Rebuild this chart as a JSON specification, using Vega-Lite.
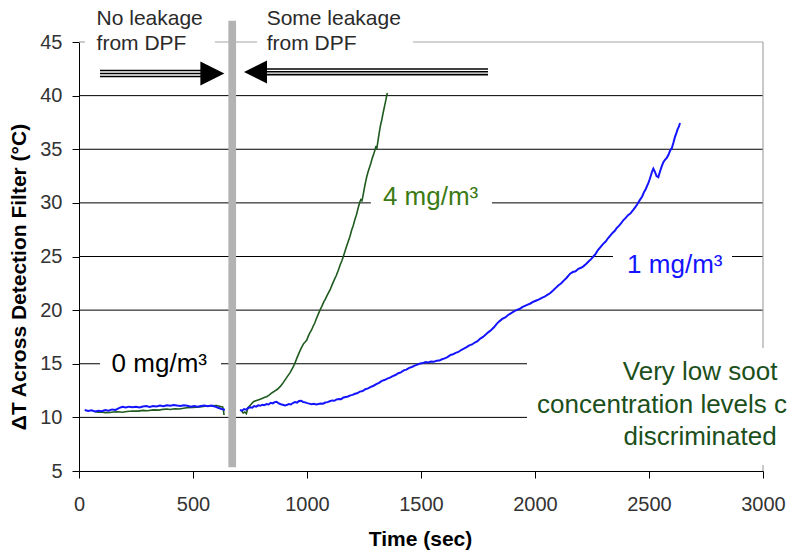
{
"$schema": "https://vega.github.io/schema/vega-lite/v6.json",
"width": 684, "height": 429,
"autosize": {"type": "none"},
"padding": {"left": 79, "top": 42, "right": 34, "bottom": 84},
"background": "white",
"config": {"view": {"stroke": null}, "font": "Liberation Sans"},
"datasets": {
"grid": [
{"y":40,"x":0,"x2":3000},{"y":35,"x":0,"x2":3000},{"y":30,"x":0,"x2":1280},{"y":30,"x":1811,"x2":3000},
{"y":25,"x":0,"x2":2342},{"y":25,"x":2864,"x2":3000},{"y":20,"x":0,"x2":3000},
{"y":15,"x":0,"x2":92},{"y":15,"x":623,"x2":1965},{"y":10,"x":0,"x2":1965}],
"hborder": [{"y":45,"x":0,"x2":26},{"y":45,"x":596,"x2":781},{"y":45,"x":1465,"x2":3000}],
"vborder": [{"x":3000,"y":5,"y2":5.56},{"x":3000,"y":16.47,"y2":45}],
"bar": [{"x":672,"y":5.34,"y2":46.99}],
"arrowlines": [
{"x":92,"x2":560,"y":42.34},{"x":92,"x2":560,"y":42.06},{"x":92,"x2":560,"y":41.78},
{"x":800,"x2":1794,"y":42.48},{"x":800,"x2":1794,"y":42.22},{"x":800,"x2":1794,"y":41.96}],
"headR": [{"x":585,"y":42.06}],
"headL": [{"x":774,"y":42.2}],
"blue": [
{"x":25,"y":10.68,"seg":"a"},{"x":40,"y":10.6,"seg":"a"},{"x":55,"y":10.66,"seg":"a"},{"x":70,"y":10.55,"seg":"a"},{"x":85,"y":10.62,"seg":"a"},{"x":100,"y":10.58,"seg":"a"},{"x":115,"y":10.68,"seg":"a"},{"x":130,"y":10.62,"seg":"a"},{"x":145,"y":10.74,"seg":"a"},{"x":160,"y":10.7,"seg":"a"},{"x":175,"y":10.86,"seg":"a"},{"x":190,"y":10.98,"seg":"a"},{"x":205,"y":10.92,"seg":"a"},{"x":220,"y":11.0,"seg":"a"},{"x":235,"y":10.95,"seg":"a"},{"x":250,"y":10.98,"seg":"a"},{"x":265,"y":10.93,"seg":"a"},{"x":280,"y":11.02,"seg":"a"},{"x":295,"y":11.05,"seg":"a"},{"x":310,"y":10.98,"seg":"a"},{"x":325,"y":11.06,"seg":"a"},{"x":340,"y":11.02,"seg":"a"},{"x":355,"y":11.1,"seg":"a"},{"x":370,"y":11.04,"seg":"a"},{"x":385,"y":11.12,"seg":"a"},{"x":400,"y":11.08,"seg":"a"},{"x":415,"y":11.15,"seg":"a"},{"x":430,"y":11.1,"seg":"a"},{"x":445,"y":11.06,"seg":"a"},{"x":460,"y":11.12,"seg":"a"},{"x":475,"y":11.08,"seg":"a"},{"x":490,"y":11.0,"seg":"a"},{"x":505,"y":11.05,"seg":"a"},{"x":520,"y":11.0,"seg":"a"},{"x":535,"y":11.06,"seg":"a"},{"x":550,"y":11.1,"seg":"a"},{"x":565,"y":11.05,"seg":"a"},{"x":580,"y":11.1,"seg":"a"},{"x":595,"y":11.02,"seg":"a"},{"x":610,"y":10.9,"seg":"a"},{"x":625,"y":10.78,"seg":"a"},{"x":640,"y":10.72,"seg":"a"},
{"x":706,"y":10.69,"seg":"b"},{"x":715,"y":10.62,"seg":"b"},{"x":724,"y":10.78,"seg":"b"},{"x":733,"y":10.72,"seg":"b"},{"x":742,"y":10.88,"seg":"b"},{"x":751,"y":10.95,"seg":"b"},{"x":760,"y":10.9,"seg":"b"},{"x":768,"y":11.06,"seg":"b"},{"x":777,"y":11.0,"seg":"b"},{"x":786,"y":11.12,"seg":"b"},{"x":795,"y":11.08,"seg":"b"},{"x":804,"y":11.18,"seg":"b"},{"x":813,"y":11.14,"seg":"b"},{"x":823,"y":11.25,"seg":"b"},{"x":832,"y":11.2,"seg":"b"},{"x":841,"y":11.36,"seg":"b"},{"x":850,"y":11.3,"seg":"b"},{"x":858,"y":11.42,"seg":"b"},{"x":867,"y":11.46,"seg":"b"},{"x":876,"y":11.3,"seg":"b"},{"x":885,"y":11.22,"seg":"b"},{"x":894,"y":11.18,"seg":"b"},{"x":903,"y":11.12,"seg":"b"},{"x":911,"y":11.15,"seg":"b"},{"x":920,"y":11.25,"seg":"b"},{"x":929,"y":11.2,"seg":"b"},{"x":938,"y":11.34,"seg":"b"},{"x":947,"y":11.42,"seg":"b"},{"x":956,"y":11.38,"seg":"b"},{"x":965,"y":11.52,"seg":"b"},{"x":974,"y":11.55,"seg":"b"},{"x":983,"y":11.44,"seg":"b"},{"x":992,"y":11.4,"seg":"b"},{"x":1001,"y":11.33,"seg":"b"},{"x":1010,"y":11.28,"seg":"b"},{"x":1020,"y":11.22,"seg":"b"},{"x":1030,"y":11.26,"seg":"b"},{"x":1040,"y":11.2,"seg":"b"},{"x":1050,"y":11.24,"seg":"b"},{"x":1060,"y":11.3,"seg":"b"},{"x":1070,"y":11.28,"seg":"b"},{"x":1080,"y":11.38,"seg":"b"},{"x":1090,"y":11.42,"seg":"b"},{"x":1100,"y":11.5,"seg":"b"},{"x":1110,"y":11.58,"seg":"b"},{"x":1120,"y":11.55,"seg":"b"},{"x":1130,"y":11.68,"seg":"b"},{"x":1140,"y":11.72,"seg":"b"},{"x":1150,"y":11.7,"seg":"b"},{"x":1160,"y":11.85,"seg":"b"},{"x":1170,"y":11.9,"seg":"b"},{"x":1180,"y":11.95,"seg":"b"},{"x":1190,"y":12.05,"seg":"b"},{"x":1200,"y":12.1,"seg":"b"},{"x":1210,"y":12.2,"seg":"b"},{"x":1220,"y":12.25,"seg":"b"},{"x":1232,"y":12.4,"seg":"b"},{"x":1244,"y":12.45,"seg":"b"},{"x":1256,"y":12.62,"seg":"b"},{"x":1268,"y":12.7,"seg":"b"},{"x":1280,"y":12.85,"seg":"b"},{"x":1292,"y":12.95,"seg":"b"},{"x":1304,"y":13.1,"seg":"b"},{"x":1316,"y":13.22,"seg":"b"},{"x":1328,"y":13.4,"seg":"b"},{"x":1340,"y":13.48,"seg":"b"},{"x":1352,"y":13.62,"seg":"b"},{"x":1364,"y":13.7,"seg":"b"},{"x":1376,"y":13.85,"seg":"b"},{"x":1388,"y":13.95,"seg":"b"},{"x":1400,"y":14.12,"seg":"b"},{"x":1412,"y":14.2,"seg":"b"},{"x":1424,"y":14.38,"seg":"b"},{"x":1436,"y":14.45,"seg":"b"},{"x":1448,"y":14.62,"seg":"b"},{"x":1460,"y":14.7,"seg":"b"},{"x":1472,"y":14.82,"seg":"b"},{"x":1484,"y":14.92,"seg":"b"},{"x":1496,"y":15.02,"seg":"b"},{"x":1508,"y":15.06,"seg":"b"},{"x":1520,"y":15.15,"seg":"b"},{"x":1532,"y":15.12,"seg":"b"},{"x":1544,"y":15.2,"seg":"b"},{"x":1556,"y":15.18,"seg":"b"},{"x":1568,"y":15.28,"seg":"b"},{"x":1580,"y":15.3,"seg":"b"},{"x":1592,"y":15.42,"seg":"b"},{"x":1604,"y":15.5,"seg":"b"},{"x":1616,"y":15.62,"seg":"b"},{"x":1628,"y":15.8,"seg":"b"},{"x":1640,"y":15.88,"seg":"b"},{"x":1652,"y":16.02,"seg":"b"},{"x":1664,"y":16.1,"seg":"b"},{"x":1676,"y":16.28,"seg":"b"},{"x":1688,"y":16.4,"seg":"b"},{"x":1700,"y":16.55,"seg":"b"},{"x":1712,"y":16.72,"seg":"b"},{"x":1724,"y":16.8,"seg":"b"},{"x":1736,"y":16.98,"seg":"b"},{"x":1748,"y":17.1,"seg":"b"},{"x":1760,"y":17.35,"seg":"b"},{"x":1772,"y":17.5,"seg":"b"},{"x":1784,"y":17.72,"seg":"b"},{"x":1796,"y":17.95,"seg":"b"},{"x":1808,"y":18.15,"seg":"b"},{"x":1820,"y":18.4,"seg":"b"},{"x":1832,"y":18.72,"seg":"b"},{"x":1846,"y":19.0,"seg":"b"},{"x":1858,"y":19.2,"seg":"b"},{"x":1870,"y":19.32,"seg":"b"},{"x":1882,"y":19.55,"seg":"b"},{"x":1894,"y":19.7,"seg":"b"},{"x":1906,"y":19.85,"seg":"b"},{"x":1920,"y":20.02,"seg":"b"},{"x":1932,"y":20.1,"seg":"b"},{"x":1944,"y":20.28,"seg":"b"},{"x":1956,"y":20.4,"seg":"b"},{"x":1968,"y":20.52,"seg":"b"},{"x":1980,"y":20.62,"seg":"b"},{"x":1993,"y":20.78,"seg":"b"},{"x":2006,"y":20.9,"seg":"b"},{"x":2018,"y":21.0,"seg":"b"},{"x":2030,"y":21.15,"seg":"b"},{"x":2042,"y":21.25,"seg":"b"},{"x":2054,"y":21.42,"seg":"b"},{"x":2066,"y":21.57,"seg":"b"},{"x":2078,"y":21.8,"seg":"b"},{"x":2090,"y":22.05,"seg":"b"},{"x":2102,"y":22.3,"seg":"b"},{"x":2114,"y":22.48,"seg":"b"},{"x":2126,"y":22.75,"seg":"b"},{"x":2138,"y":23.0,"seg":"b"},{"x":2154,"y":23.4,"seg":"b"},{"x":2166,"y":23.55,"seg":"b"},{"x":2178,"y":23.62,"seg":"b"},{"x":2190,"y":23.85,"seg":"b"},{"x":2202,"y":23.95,"seg":"b"},{"x":2212,"y":24.08,"seg":"b"},{"x":2224,"y":24.3,"seg":"b"},{"x":2236,"y":24.55,"seg":"b"},{"x":2246,"y":24.75,"seg":"b"},{"x":2256,"y":25.0,"seg":"b"},{"x":2266,"y":25.25,"seg":"b"},{"x":2276,"y":25.6,"seg":"b"},{"x":2288,"y":25.9,"seg":"b"},{"x":2300,"y":26.2,"seg":"b"},{"x":2310,"y":26.4,"seg":"b"},{"x":2320,"y":26.7,"seg":"b"},{"x":2330,"y":26.95,"seg":"b"},{"x":2340,"y":27.2,"seg":"b"},{"x":2350,"y":27.4,"seg":"b"},{"x":2358,"y":27.65,"seg":"b"},{"x":2368,"y":27.85,"seg":"b"},{"x":2378,"y":28.1,"seg":"b"},{"x":2388,"y":28.4,"seg":"b"},{"x":2398,"y":28.6,"seg":"b"},{"x":2408,"y":28.85,"seg":"b"},{"x":2418,"y":29.0,"seg":"b"},{"x":2431,"y":29.35,"seg":"b"},{"x":2440,"y":29.6,"seg":"b"},{"x":2448,"y":29.85,"seg":"b"},{"x":2455,"y":30.1,"seg":"b"},{"x":2461,"y":30.3,"seg":"b"},{"x":2470,"y":30.6,"seg":"b"},{"x":2478,"y":31.0,"seg":"b"},{"x":2486,"y":31.3,"seg":"b"},{"x":2492,"y":31.6,"seg":"b"},{"x":2497,"y":31.85,"seg":"b"},{"x":2503,"y":32.2,"seg":"b"},{"x":2509,"y":32.6,"seg":"b"},{"x":2514,"y":32.95,"seg":"b"},{"x":2519,"y":33.2,"seg":"b"},{"x":2526,"y":32.9,"seg":"b"},{"x":2533,"y":32.5,"seg":"b"},{"x":2541,"y":32.4,"seg":"b"},{"x":2548,"y":32.9,"seg":"b"},{"x":2555,"y":33.35,"seg":"b"},{"x":2563,"y":33.8,"seg":"b"},{"x":2570,"y":34.0,"seg":"b"},{"x":2578,"y":34.2,"seg":"b"},{"x":2586,"y":34.5,"seg":"b"},{"x":2593,"y":34.9,"seg":"b"},{"x":2600,"y":35.1,"seg":"b"},{"x":2607,"y":35.6,"seg":"b"},{"x":2614,"y":36.15,"seg":"b"},{"x":2620,"y":36.5,"seg":"b"},{"x":2626,"y":36.9,"seg":"b"},{"x":2631,"y":37.1,"seg":"b"},{"x":2636,"y":37.45,"seg":"b"}],
"green": [
{"x":70,"y":10.53,"seg":"a"},{"x":85,"y":10.48,"seg":"a"},{"x":100,"y":10.5,"seg":"a"},{"x":115,"y":10.44,"seg":"a"},{"x":136,"y":10.45,"seg":"a"},{"x":150,"y":10.5,"seg":"a"},{"x":170,"y":10.52,"seg":"a"},{"x":190,"y":10.48,"seg":"a"},{"x":210,"y":10.55,"seg":"a"},{"x":238,"y":10.6,"seg":"a"},{"x":260,"y":10.58,"seg":"a"},{"x":280,"y":10.65,"seg":"a"},{"x":300,"y":10.62,"seg":"a"},{"x":326,"y":10.7,"seg":"a"},{"x":350,"y":10.68,"seg":"a"},{"x":370,"y":10.75,"seg":"a"},{"x":385,"y":10.78,"seg":"a"},{"x":400,"y":10.74,"seg":"a"},{"x":420,"y":10.8,"seg":"a"},{"x":440,"y":10.78,"seg":"a"},{"x":472,"y":10.9,"seg":"a"},{"x":500,"y":10.92,"seg":"a"},{"x":530,"y":10.98,"seg":"a"},{"x":560,"y":11.06,"seg":"a"},{"x":580,"y":11.08,"seg":"a"},{"x":604,"y":11.1,"seg":"a"},{"x":620,"y":11.02,"seg":"a"},{"x":630,"y":10.97,"seg":"a"},{"x":634,"y":10.6,"seg":"a"},{"x":636,"y":10.22,"seg":"a"},
{"x":713,"y":10.6,"seg":"b"},{"x":720,"y":10.42,"seg":"b"},{"x":727,"y":10.5,"seg":"b"},{"x":734,"y":10.35,"seg":"b"},{"x":741,"y":10.9,"seg":"b"},{"x":750,"y":11.1,"seg":"b"},{"x":758,"y":11.3,"seg":"b"},{"x":765,"y":11.46,"seg":"b"},{"x":775,"y":11.55,"seg":"b"},{"x":785,"y":11.62,"seg":"b"},{"x":795,"y":11.7,"seg":"b"},{"x":805,"y":11.78,"seg":"b"},{"x":815,"y":11.88,"seg":"b"},{"x":823,"y":11.93,"seg":"b"},{"x":835,"y":12.1,"seg":"b"},{"x":847,"y":12.3,"seg":"b"},{"x":858,"y":12.45,"seg":"b"},{"x":870,"y":12.62,"seg":"b"},{"x":882,"y":12.86,"seg":"b"},{"x":893,"y":13.15,"seg":"b"},{"x":904,"y":13.5,"seg":"b"},{"x":915,"y":13.85,"seg":"b"},{"x":925,"y":14.15,"seg":"b"},{"x":933,"y":14.45,"seg":"b"},{"x":940,"y":14.72,"seg":"b"},{"x":948,"y":15.1,"seg":"b"},{"x":955,"y":15.5,"seg":"b"},{"x":963,"y":15.9,"seg":"b"},{"x":970,"y":16.25,"seg":"b"},{"x":978,"y":16.6,"seg":"b"},{"x":986,"y":16.9,"seg":"b"},{"x":993,"y":17.05,"seg":"b"},{"x":999,"y":17.21,"seg":"b"},{"x":1006,"y":17.6,"seg":"b"},{"x":1013,"y":17.9,"seg":"b"},{"x":1020,"y":18.15,"seg":"b"},{"x":1027,"y":18.5,"seg":"b"},{"x":1034,"y":18.8,"seg":"b"},{"x":1041,"y":19.2,"seg":"b"},{"x":1049,"y":19.6,"seg":"b"},{"x":1057,"y":20.0,"seg":"b"},{"x":1065,"y":20.35,"seg":"b"},{"x":1073,"y":20.75,"seg":"b"},{"x":1081,"y":21.05,"seg":"b"},{"x":1090,"y":21.45,"seg":"b"},{"x":1101,"y":21.88,"seg":"b"},{"x":1110,"y":22.35,"seg":"b"},{"x":1119,"y":22.8,"seg":"b"},{"x":1128,"y":23.2,"seg":"b"},{"x":1137,"y":23.7,"seg":"b"},{"x":1146,"y":24.25,"seg":"b"},{"x":1153,"y":24.6,"seg":"b"},{"x":1159,"y":24.98,"seg":"b"},{"x":1166,"y":25.45,"seg":"b"},{"x":1173,"y":25.9,"seg":"b"},{"x":1180,"y":26.35,"seg":"b"},{"x":1188,"y":26.85,"seg":"b"},{"x":1196,"y":27.47,"seg":"b"},{"x":1203,"y":27.9,"seg":"b"},{"x":1210,"y":28.45,"seg":"b"},{"x":1217,"y":28.9,"seg":"b"},{"x":1224,"y":29.5,"seg":"b"},{"x":1232,"y":30.11,"seg":"b"},{"x":1236,"y":30.3,"seg":"b"},{"x":1241,"y":30.2,"seg":"b"},{"x":1246,"y":30.7,"seg":"b"},{"x":1251,"y":31.3,"seg":"b"},{"x":1256,"y":31.85,"seg":"b"},{"x":1262,"y":32.44,"seg":"b"},{"x":1268,"y":32.9,"seg":"b"},{"x":1274,"y":33.3,"seg":"b"},{"x":1280,"y":33.7,"seg":"b"},{"x":1286,"y":34.15,"seg":"b"},{"x":1292,"y":34.5,"seg":"b"},{"x":1298,"y":34.93,"seg":"b"},{"x":1303,"y":35.3,"seg":"b"},{"x":1306,"y":35.0,"seg":"b"},{"x":1310,"y":35.6,"seg":"b"},{"x":1315,"y":36.3,"seg":"b"},{"x":1320,"y":36.95,"seg":"b"},{"x":1324,"y":37.4,"seg":"b"},{"x":1328,"y":37.73,"seg":"b"},{"x":1333,"y":38.3,"seg":"b"},{"x":1338,"y":38.8,"seg":"b"},{"x":1342,"y":39.2,"seg":"b"},{"x":1346,"y":39.6,"seg":"b"},{"x":1350,"y":40.06,"seg":"b"},{"x":1353,"y":40.25,"seg":"b"}],
"topnotes": [
{"x":77,"y":46.59,"text":"No leakage"},{"x":77,"y":44.25,"text":"from DPF"},
{"x":823,"y":46.59,"text":"Some leakage"},{"x":823,"y":44.25,"text":"from DPF"}],
"lbl0": [{"x":143,"y":14.23,"text":"0 mg/m³"}],
"lbl4": [{"x":1333,"y":29.8,"text":"4 mg/m³"}],
"lbl1": [{"x":2404,"y":23.43,"text":"1 mg/m³"}],
"noteC": [
{"x":2724,"y":13.48,"text":"Very low soot"},
{"x":2724,"y":7.42,"text":"discriminated"}],
"noteL": [
{"x":2009,"y":10.44,"text":"concentration levels c"}]
},
"layer": [
{
"data": {"name": "grid"},
"mark": {"type": "rule", "color": "#000000", "strokeWidth": 1},
"encoding": {
"x": {"field": "x", "type": "quantitative",
"scale": {"domain": [0, 3000], "nice": false, "zero": false},
"axis": {"title": "Time (sec)", "values": [0,500,1000,1500,2000,2500,3000], "format": "d", "grid": false,
"domainColor": "#000000", "tickColor": "#000000", "tickSize": 7,
"labelFont": "Liberation Sans", "labelFontSize": 20, "labelColor": "#333333",
"labelBaseline": "alphabetic", "labelPadding": 32, "labelFlush": false, "labelOverlap": false,
"titleFont": "Liberation Sans", "titleFontSize": 21, "titleFontWeight": "bold", "titleColor": "#000000",
"titleX": 341, "titleY": 74, "titleAlign": "center", "titleBaseline": "alphabetic"}},
"x2": {"field": "x2"},
"y": {"field": "y", "type": "quantitative",
"scale": {"domain": [5, 45], "nice": false, "zero": false},
"axis": {"title": "ΔT Across Detection Filter (°C)", "values": [5,10,15,20,25,30,35,40,45], "grid": false,
"domainColor": "#000000", "tickColor": "#000000", "tickSize": 7,
"labelFont": "Liberation Sans", "labelFontSize": 20, "labelColor": "#333333",
"labelPadding": 10, "labelBaseline": "middle", "labelAlign": "right", "labelFlush": false, "labelOverlap": false,
"titleFont": "Liberation Sans", "titleFontSize": 21, "titleFontWeight": "bold", "titleColor": "#000000",
"titleAngle": 270, "titleX": -53.5, "titleY": 234.5, "titleAlign": "center", "titleBaseline": "alphabetic"}}
}
},
{
"data": {"name": "hborder"},
"mark": {"type": "rule", "color": "#a6a6a6", "strokeWidth": 1.2},
"encoding": {
"x": {"field": "x", "type": "quantitative"},
"x2": {"field": "x2"},
"y": {"field": "y", "type": "quantitative"}
}
},
{
"data": {"name": "vborder"},
"mark": {"type": "rule", "color": "#a6a6a6", "strokeWidth": 1.2},
"encoding": {
"x": {"field": "x", "type": "quantitative"},
"y": {"field": "y", "type": "quantitative"},
"y2": {"field": "y2"}
}
},
{
"data": {"name": "green"},
"mark": {"type": "line", "color": "#1f5a1f", "strokeWidth": 1.6},
"encoding": {
"x": {"field": "x", "type": "quantitative"},
"y": {"field": "y", "type": "quantitative"},
"detail": {"field": "seg", "type": "nominal"}
}
},
{
"data": {"name": "blue"},
"mark": {"type": "line", "color": "#1414ff", "strokeWidth": 2},
"encoding": {
"x": {"field": "x", "type": "quantitative"},
"y": {"field": "y", "type": "quantitative"},
"detail": {"field": "seg", "type": "nominal"}
}
},
{
"data": {"name": "bar"},
"mark": {"type": "rule", "color": "#b3b3b3", "strokeWidth": 7.7, "strokeCap": "butt"},
"encoding": {
"x": {"field": "x", "type": "quantitative"},
"y": {"field": "y", "type": "quantitative"},
"y2": {"field": "y2"}
}
},
{
"data": {"name": "arrowlines"},
"mark": {"type": "rule", "color": "#000000", "strokeWidth": 1.6},
"encoding": {
"x": {"field": "x", "type": "quantitative"},
"x2": {"field": "x2"},
"y": {"field": "y", "type": "quantitative"}
}
},
{
"data": {"name": "headR"},
"mark": {"type": "point", "shape": "M-1,-1L1,0L-1,1Z", "filled": true, "color": "#000000", "opacity": 1, "size": 576, "strokeWidth": 0},
"encoding": {
"x": {"field": "x", "type": "quantitative"},
"y": {"field": "y", "type": "quantitative"}
}
},
{
"data": {"name": "headL"},
"mark": {"type": "point", "shape": "M1,-1L-1,0L1,1Z", "filled": true, "color": "#000000", "opacity": 1, "size": 529, "strokeWidth": 0},
"encoding": {
"x": {"field": "x", "type": "quantitative"},
"y": {"field": "y", "type": "quantitative"}
}
},
{
"data": {"name": "topnotes"},
"mark": {"type": "text", "align": "left", "baseline": "alphabetic", "font": "Liberation Sans", "fontSize": 21, "color": "#2a2a2a"},
"encoding": {
"x": {"field": "x", "type": "quantitative"},
"y": {"field": "y", "type": "quantitative"},
"text": {"field": "text"}
}
},
{
"data": {"name": "lbl0"},
"mark": {"type": "text", "align": "left", "baseline": "alphabetic", "font": "Liberation Sans", "fontSize": 26, "color": "#000000"},
"encoding": {
"x": {"field": "x", "type": "quantitative"},
"y": {"field": "y", "type": "quantitative"},
"text": {"field": "text"}
}
},
{
"data": {"name": "lbl4"},
"mark": {"type": "text", "align": "left", "baseline": "alphabetic", "font": "Liberation Sans", "fontSize": 26, "color": "#3b7a14"},
"encoding": {
"x": {"field": "x", "type": "quantitative"},
"y": {"field": "y", "type": "quantitative"},
"text": {"field": "text"}
}
},
{
"data": {"name": "lbl1"},
"mark": {"type": "text", "align": "left", "baseline": "alphabetic", "font": "Liberation Sans", "fontSize": 26, "color": "#1414ff"},
"encoding": {
"x": {"field": "x", "type": "quantitative"},
"y": {"field": "y", "type": "quantitative"},
"text": {"field": "text"}
}
},
{
"data": {"name": "noteC"},
"mark": {"type": "text", "align": "center", "baseline": "alphabetic", "font": "Liberation Sans", "fontSize": 26, "color": "#1b4f1b"},
"encoding": {
"x": {"field": "x", "type": "quantitative"},
"y": {"field": "y", "type": "quantitative"},
"text": {"field": "text"}
}
},
{
"data": {"name": "noteL"},
"mark": {"type": "text", "align": "left", "baseline": "alphabetic", "font": "Liberation Sans", "fontSize": 26, "color": "#1b4f1b"},
"encoding": {
"x": {"field": "x", "type": "quantitative"},
"y": {"field": "y", "type": "quantitative"},
"text": {"field": "text"}
}
}
]
}
